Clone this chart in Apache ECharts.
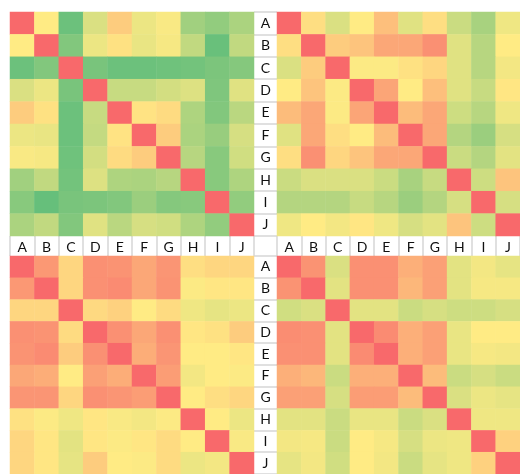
<!DOCTYPE html>
<html><head><meta charset="utf-8">
<script src="https://cdn.jsdelivr.net/npm/echarts@6/dist/echarts.min.js"></script>
<style>html,body{margin:0;padding:0;background:#fff}#c{width:520px;height:474px}</style>
</head><body><div id="c"></div>
<script>
var labels = ['A','B','C','D','E','F','G','H','I','J'];

var topLeft = [
 [1.00,0.50,0.03,0.38,0.62,0.44,0.48,0.20,0.15,0.23],
 [0.50,1.00,0.10,0.44,0.54,0.43,0.47,0.30,0.02,0.30],
 [0.03,0.10,1.00,0.07,0.03,0.03,0.04,0.05,0.08,0.11],
 [0.38,0.44,0.07,1.00,0.32,0.32,0.36,0.39,0.09,0.40],
 [0.62,0.54,0.03,0.32,1.00,0.53,0.56,0.24,0.10,0.28],
 [0.44,0.43,0.03,0.31,0.53,1.00,0.62,0.23,0.17,0.37],
 [0.48,0.47,0.04,0.36,0.56,0.62,1.00,0.27,0.12,0.35],
 [0.20,0.30,0.05,0.39,0.24,0.23,0.27,1.00,0.12,0.24],
 [0.12,0.01,0.07,0.08,0.10,0.18,0.11,0.12,1.00,0.15],
 [0.23,0.30,0.10,0.40,0.28,0.37,0.35,0.24,0.15,1.00]
];
var topRight = [
 [1.00,0.55,0.38,0.50,0.67,0.40,0.55,0.33,0.22,0.45],
 [0.55,1.00,0.62,0.65,0.76,0.76,0.85,0.40,0.27,0.50],
 [0.38,0.62,1.00,0.49,0.49,0.54,0.58,0.40,0.27,0.46],
 [0.50,0.65,0.49,1.00,0.77,0.50,0.67,0.40,0.32,0.52],
 [0.68,0.76,0.49,0.77,1.00,0.68,0.76,0.34,0.27,0.45],
 [0.40,0.76,0.55,0.50,0.68,1.00,0.76,0.26,0.18,0.37],
 [0.55,0.85,0.58,0.65,0.76,0.76,1.00,0.33,0.26,0.41],
 [0.33,0.38,0.38,0.38,0.33,0.22,0.32,1.00,0.34,0.65],
 [0.26,0.26,0.26,0.32,0.27,0.18,0.26,0.37,1.00,0.37],
 [0.45,0.50,0.46,0.52,0.45,0.37,0.41,0.65,0.34,1.00]
];
var bottomLeft = [
 [1.00,0.82,0.58,0.85,0.84,0.76,0.83,0.55,0.58,0.58],
 [0.82,1.00,0.58,0.85,0.87,0.76,0.84,0.49,0.52,0.52],
 [0.58,0.58,1.00,0.57,0.60,0.50,0.56,0.45,0.42,0.44],
 [0.85,0.84,0.56,1.00,0.85,0.76,0.85,0.52,0.54,0.62],
 [0.84,0.87,0.62,0.85,1.00,0.74,0.83,0.50,0.50,0.52],
 [0.76,0.74,0.50,0.79,0.74,1.00,0.80,0.46,0.50,0.49],
 [0.83,0.83,0.58,0.85,0.83,0.80,1.00,0.50,0.55,0.58],
 [0.54,0.49,0.45,0.52,0.48,0.46,0.49,1.00,0.50,0.44],
 [0.58,0.52,0.41,0.52,0.49,0.52,0.56,0.50,1.00,0.48],
 [0.58,0.52,0.42,0.62,0.50,0.49,0.56,0.44,0.46,1.00]
];
var bottomRight = [
 [1.00,0.84,0.38,0.85,0.85,0.73,0.79,0.41,0.46,0.42],
 [0.84,1.00,0.41,0.85,0.85,0.70,0.79,0.41,0.47,0.47],
 [0.35,0.38,1.00,0.41,0.41,0.33,0.37,0.34,0.34,0.37],
 [0.86,0.85,0.41,1.00,0.87,0.73,0.79,0.43,0.50,0.50],
 [0.85,0.85,0.41,0.87,1.00,0.73,0.79,0.43,0.47,0.46],
 [0.73,0.70,0.33,0.73,0.73,1.00,0.68,0.33,0.37,0.33],
 [0.79,0.79,0.37,0.80,0.80,0.68,1.00,0.38,0.44,0.42],
 [0.41,0.41,0.33,0.43,0.43,0.33,0.38,1.00,0.45,0.45],
 [0.46,0.47,0.33,0.50,0.47,0.37,0.44,0.45,1.00,0.60],
 [0.42,0.46,0.35,0.50,0.46,0.33,0.42,0.45,0.60,1.00]
];

function toCells(m) {
  var out = [];
  for (var r = 0; r < m.length; r++)
    for (var c = 0; c < m[r].length; c++)
      out.push([c, r, m[r][c]]);
  return out;
}

var tickStyle = {color: '#d6d6d6', width: 1.5};
var labelFont = {color: '#111', fontSize: 14, fontFamily: 'Lato, "Open Sans", sans-serif'};

function xAx(gi, pos, showLabel) {
  return {
    type: 'category', data: labels, gridIndex: gi, position: pos,
    axisLine: {show: false}, splitLine: {show: false},
    axisTick: {show: true, length: 10, lineStyle: tickStyle},
    axisLabel: Object.assign({show: showLabel, margin: 9, verticalAlign: 'middle'}, labelFont)
  };
}
function yAx(gi, pos, showLabel) {
  return {
    type: 'category', data: labels, gridIndex: gi, position: pos, inverse: true,
    axisLine: {show: false}, splitLine: {show: false},
    axisTick: {show: true, length: 11.5, lineStyle: tickStyle},
    axisLabel: Object.assign({show: showLabel, margin: 11.5, align: 'center'}, labelFont)
  };
}

var grids = [
  {left: 10, top: 12, width: 244, height: 224},
  {left: 277, top: 12, width: 244, height: 224},
  {left: 10, top: 256, width: 244, height: 224},
  {left: 277, top: 256, width: 244, height: 224}
];

var mats = [topLeft, topRight, bottomLeft, bottomRight];
var series = mats.map(function (m, i) {
  return {
    type: 'heatmap', xAxisIndex: i, yAxisIndex: i, data: toCells(m),
    progressive: 0, animation: false, emphasis: {disabled: true}
  };
});

var chart = echarts.init(document.getElementById('c'), null, {renderer: 'canvas'});
chart.setOption({
  animation: false,
  backgroundColor: '#fff',
  grid: grids,
  xAxis: [xAx(0, 'bottom', false), xAx(1, 'bottom', false), xAx(2, 'top', true), xAx(3, 'top', true)],
  yAxis: [yAx(0, 'right', false), yAx(1, 'left', true), yAx(2, 'right', false), yAx(3, 'left', true)],
  visualMap: {
    show: false, type: 'continuous', min: 0, max: 1, seriesIndex: [0, 1, 2, 3],
    inRange: {color: ['#63be7b', '#ffeb84', '#f8696b']}
  },
  series: series
});
</script></body></html>
